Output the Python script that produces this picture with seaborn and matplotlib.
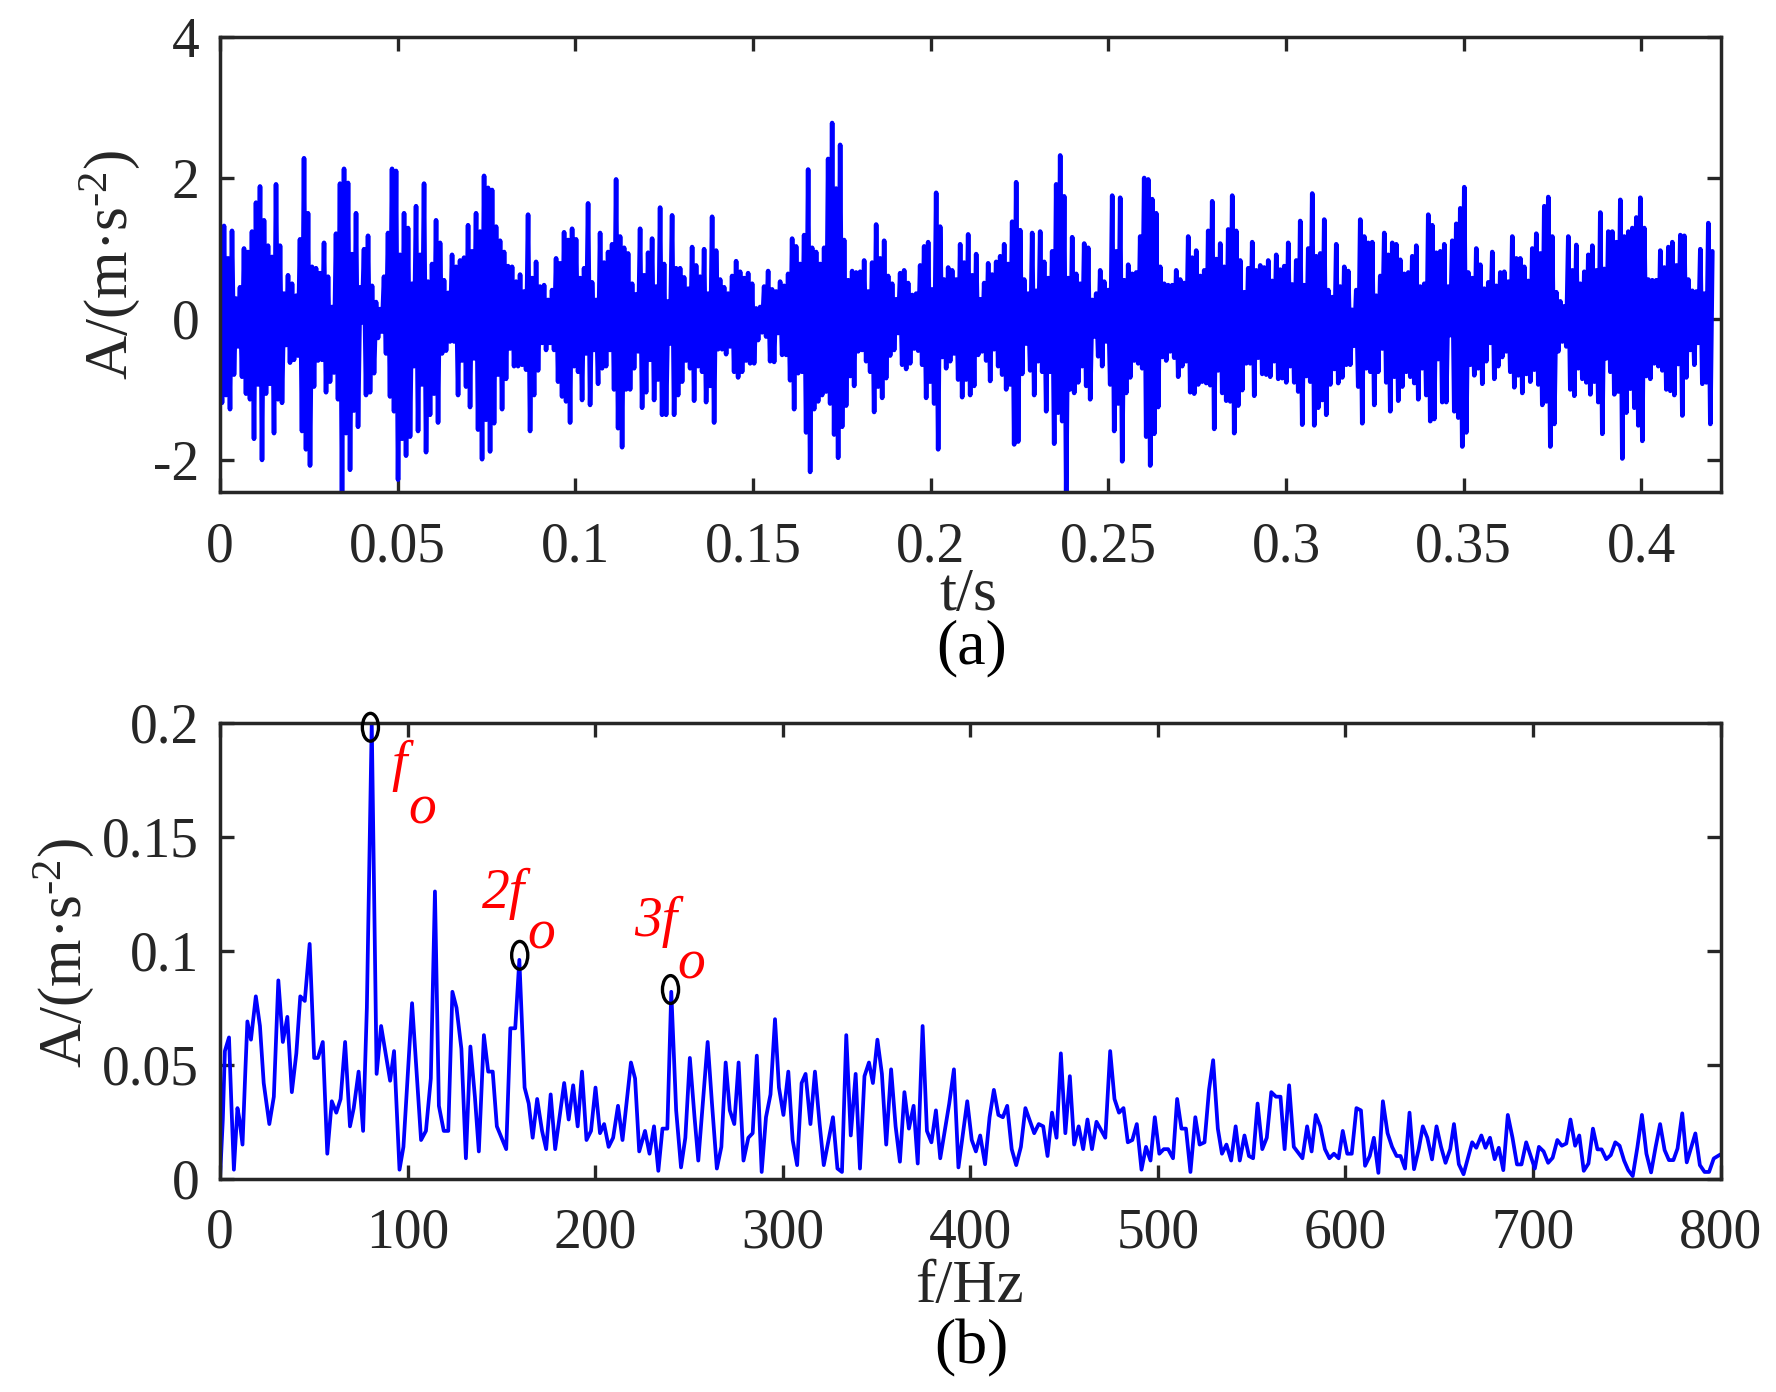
import numpy as np
import matplotlib
matplotlib.use("Agg")
import matplotlib.pyplot as plt
from matplotlib.patches import Ellipse
import seaborn as sns

# Panel (a): read-off upper and lower excursions of the vibration signal, m/s^2
upper_1 = [.60,1.32,.86,1.25,.29,.45,1.0,.95,1.24,1.65,1.88,1.40,1.04,.88,1.91,1.04,.36,.62,.50,.33,1.13,2.28,1.50,.74,.72,.65,1.08,.60,.17,1.21,1.92,2.13,1.93,.92,1.50,.45,.99,1.18,.47,.24,.14,.60,1.22,2.13,2.10,.91,1.50,1.29,.50,1.60,.91,1.92,.53,.78,1.40,1.08,.55,.37,.91,.74,.83,.87,1.33,.96,1.50,1.24,2.03,1.86,1.83,1.31,1.11,.95,.75,.74,.53,.63,.39,1.48,.58,.81,.46,.48,.27,.41,.86,.79,1.23,1.12,1.28,1.13,.58,.72,1.64,.52]
upper_2 = [.27,1.22,.80,.95,1.06,1.98,1.17,1.01,.93,.50,.35,1.28,.62,.94,1.14,.46,1.58,.78,.25,1.47,.72,.72,.59,.43,1.02,.76,.60,.99,.36,1.45,.97,.56,.45,.36,.61,.82,.67,.58,.65,.50,.15,.17,.46,.68,.42,.39,.53,.47,.64,1.14,1.03,.78,1.19,2.12,1.01,.95,.78,1.01,2.27,2.78,1.85,2.47,1.12,.55,.68,.66,.67,.83,.39,.80,1.34,.86,1.11,.61,.50,.28,.65,.69,.51,.34,.36,.76,1.03,1.09,.42,1.79,1.31,.56,.73,.69,.56,1.06,.80,1.20]
upper_3 = [.62,.92,.28,.51,.79,.63,.81,.89,1.06,.78,1.38,1.94,1.26,.56,.36,1.22,.40,1.24,.81,.58,.96,1.91,2.32,1.74,.58,1.16,.64,.50,1.07,1.01,.27,.36,.69,.53,.41,1.75,.96,1.72,.55,.77,.64,.66,1.17,2.0,1.98,1.70,1.50,.74,.50,.48,.48,.69,.56,.51,1.17,.87,.97,.61,.69,1.25,1.67,.85,1.07,.74,1.27,1.75,1.25,.83,.38,.72,1.09,.69,.76,.73,.83,.54,.91,.70,.75,1.08,.49,.83,1.39,.48,1.0,1.78,.89,.93,1.41,.41,.31,1.06,.46,.74]
upper_4 = [.68,.13,.41,1.41,1.17,1.08,1.09,.33,.61,1.22,.91,1.08,1.06,.84,.64,.66,.89,1.04,.46,.50,1.48,1.33,.94,.96,1.06,.46,1.11,1.35,1.57,1.87,.66,.58,1.0,.77,.43,.52,.95,.47,.66,.67,.53,1.17,.86,.86,.74,.54,1.0,1.21,.93,1.60,1.73,1.17,.38,.25,.18,1.17,.69,1.05,.50,.67,.91,1.04,.69,1.51,.71,1.24,1.24,1.09,1.69,1.17,1.24,1.29,1.44,1.72,1.29,.56,.55,.55,.97,.73,1.02,1.09,.76,1.19,1.18,.56,.40,.39,.99,.36,1.36,.96]

lower_1 = [-1.19,-1.08,-1.28,-.79,-.39,-.82,-1.06,-1.14,-1.70,-.93,-2.0,-1.06,-.92,-1.62,-1.14,-1.19,-.37,-.62,-.58,-.52,-1.59,-1.85,-2.08,-.96,-.59,-.58,-1.04,-.89,-.76,-1.14,-2.45,-1.62,-2.14,-1.30,-1.53,-.05,-1.08,-1.04,-.77,-.27,-.18,-.49,-1.10,-1.31,-2.28,-1.70,-1.94,-1.67,-.67,-1.59,-.93,-1.89,-1.36,-1.06,-1.47,-.49,-.45,-.32,-.32,-1.08,-.59,-.96,-1.25,-.56,-1.57,-1.99,-1.43,-1.88,-1.48,-.79,-1.28,-.85,-.42,-.67,-.67,-.65,-.72,-1.59,-1.08,-.73,-.34,-.44,-.34,-.44,-.89,-1.10,-1.17,-1.47,-.67,-.75,-1.15,-.49,-1.22,-.44]
lower_2 = [-.92,-.70,-.67,-.44,-1.0,-1.55,-1.82,-1.0,-1.0,-.70,-.46,-1.26,-1.04,-.58,-1.15,-.86,-1.36,-1.36,-.35,-1.36,-1.08,-.89,-.59,-.70,-1.16,-.67,-.75,-1.18,-.95,-1.47,-.43,-.43,-.50,-.39,-.75,-.83,-.75,-.59,-.63,-.63,-.30,-.19,-.25,-.60,-.61,-.20,-.51,-.51,-.87,-1.28,-.77,-.75,-1.61,-2.17,-1.28,-1.17,-1.08,-1.03,-1.20,-1.64,-1.97,-1.53,-1.23,-.81,-.95,-.46,-.44,-.60,-.75,-1.32,-.96,-1.12,-.84,-.52,-.44,-.20,-.65,-.71,-.63,-.42,-.45,-.65,-1.12,-.89,-1.20,-1.85,-.54,-.70,-.60,-.49,-.86,-1.11,-.86,-1.08]
lower_3 = [-.95,-.51,-.46,-.59,-.88,-.43,-.67,-.79,-1.0,-.93,-1.78,-1.74,-.78,-.35,-.73,-1.08,-.60,-.75,-1.31,-.75,-1.77,-1.33,-1.45,-2.45,-1.0,-1.05,-.90,-.67,-.95,-1.14,-.25,-.53,-.67,-.32,-.93,-1.59,-1.20,-2.02,-1.05,-.83,-.59,-.63,-.70,-1.67,-2.08,-1.63,-1.25,-.54,-.59,-.46,-.55,-.82,-.67,-.60,-1.04,-1.06,-.93,-.89,-.91,-.94,-1.56,-.73,-1.05,-1.16,-1.17,-1.62,-1.23,-1.01,-.63,-.63,-1.09,-.55,-.78,-.79,-.82,-.60,-.85,-.84,-.90,-.67,-.90,-1.03,-1.50,-.81,-.89,-1.51,-1.26,-1.15,-1.36,-.93,-.71,-.91,-.83,-.65]
lower_4 = [-.65,-.38,-.96,-1.48,-.70,-.75,-1.22,-.75,-.42,-.90,-1.31,-.82,-1.16,-.96,-.75,-.82,-.91,-1.14,-.70,-1.08,-1.45,-1.42,-.57,-1.18,-1.18,-.23,-1.31,-1.40,-1.81,-1.61,-.65,-.80,-.70,-.92,-.60,-.34,-.85,-.67,-.54,-.46,-.75,-.97,-.80,-1.05,-.78,-.89,-.72,-.93,-1.22,-1.17,-1.81,-1.49,-.46,-.32,-.39,-1.0,-1.09,-.70,-.85,-.90,-1.07,-.89,-1.18,-1.63,-.56,-.75,-1.07,-1.03,-1.98,-1.33,-.99,-1.26,-1.51,-1.73,-.81,-.85,-.63,-.67,-.73,-1.0,-1.02,-1.08,-.64,-1.37,-.83,-.44,-.65,-.34,-.92,-.90,-1.49,-.85]

# Panel (b): read-off spectrum
freq_1 = [0,1.5,2.6,4.8,6.1,7.4,9.3,10.4,12,13.5,14.6,16.5,19.1,21.3,23.3,26.3,28.7,31.1,33.5,35.9,38.3,40.7,42.8,45.2,47.8,50.2,52.2,54.8,57.2,59.6,62,64.3,66.7,69.3,71.3,73.9,76.3,78.3,80.9,83.5,85.9,90.7,92.8,95.7,97.8,102.4,104.8,107.2,109.8,112.4,114.6,116.7,119.3,121.7,123.9,126.1,128.7,131.1,133.5,135.9,138,140.7,143,145.4,147.6,152.6,154.8,157.4,159.6,162.4,164.6,166.7,169.1,171.7,173.9,176.3,178.7,183.5,185.9,188.3,190.7,193,195.4,197.8,200.2,202.6,204.8,207.2,209.6,212.2,214.6,219.1,221.3,223.5]
amp_1 = [0,.026,.056,.062,.032,.004,.031,.026,.015,.047,.069,.061,.080,.067,.042,.024,.036,.087,.060,.071,.038,.055,.080,.078,.103,.053,.053,.060,.011,.034,.029,.035,.060,.023,.031,.047,.021,.075,.2,.046,.067,.043,.056,.004,.014,.077,.047,.017,.021,.044,.126,.032,.021,.021,.082,.075,.057,.009,.058,.036,.012,.063,.047,.047,.023,.013,.066,.066,.096,.040,.033,.018,.035,.021,.013,.037,.013,.042,.026,.041,.023,.047,.017,.021,.040,.020,.024,.014,.018,.032,.017,.051,.044,.012]
freq_2 = [226.6,229,231.4,233.7,235.9,238.5,240.6,243.2,245.8,248.1,250.5,253,255,260,262.3,264.9,267.3,269.6,271.8,274.2,276.5,279.1,281.7,284,286.2,288.8,291.1,293.5,295.9,298,300.4,303,305.3,307.7,310.1,312.2,314.8,317.2,319.7,321.9,326.8,329.2,331.6,333.9,336.3,338.9,341.2,343.6,346,348.1,350.5,352.9,355.2,357.8,360.2,362.5,364.9,367.3,369.8,372,374.6,376.9,379.3,381.7,384,386.4,388.8,391.3,393.7,398.4,400.8,403,405.3,407.9,410.3,412.6,415,417.4,419.7,422.1,424.5,427,429.4,434.1,436.5,438.9,441.2,443.6,446,448.3,450.7,453.1,455.4,457.8,460.2,462.5,464.9,467.3,472,474.6,476.9,479.3,481.7,484,486.4,488.8,491.3,493.7,496.1,498.4,500.8,503.2,505.5,508.1,510.3,512.6,515,517.4,520,522.3]
amp_2 = [.021,.011,.023,.0035,.022,.022,.082,.030,.005,.018,.053,.027,.008,.060,.033,.0045,.014,.051,.030,.024,.051,.008,.018,.020,.054,.003,.027,.037,.070,.040,.028,.047,.017,.006,.042,.046,.024,.047,.024,.006,.027,.0045,.003,.063,.019,.046,.0045,.045,.051,.042,.061,.046,.015,.048,.023,.0075,.038,.022,.032,.0067,.067,.021,.016,.030,.009,.021,.033,.048,.005,.034,.017,.012,.019,.0064,.027,.039,.028,.027,.032,.013,.006,.014,.031,.020,.024,.023,.010,.029,.018,.055,.020,.045,.015,.023,.013,.026,.013,.025,.018,.056,.035,.029,.031,.016,.017,.024,.004,.014,.008,.027,.011,.013,.013,.009,.035,.022,.022,.003,.027,.015]
freq_3 = [524.9,527.3,529.5,532,534.2,536.6,539.1,541.5,543.7,546.2,548.6,550.8,553.2,555.7,558.1,560.5,563,565.4,567.6,570,572.5,577.1,579.6,582,584.2,586.6,589.1,591.5,593.9,596.4,598.6,601,603.4,605.9,608.3,610.5,613,615.2,617.6,620,622.5,624.9,627.3,629.4,631.8,634.2,636.6,639.1,641.3,643.7,646.2,648.6,651,653.4,655.9,657.9,660.5,663,667.6,669.8,672.5,674.7,677.1,679.6,681.8,684.2,686.6,689.1,691.5,693.9,696.4,701,703.2,705.7,708.1,710.5,713,715.4,717.8,720,722.5,724.7,727.1,729.6,732,734.4,736.6,739.1,741.5,743.9,746.2,748.6,750.8,753.2,755.7,758.1,760.5,763,765.4,767.8,770.2,772.5,774.9,777.1,779.6,782,786.6,789,791.5,793.9,796.4,800]
amp_3 = [.016,.039,.052,.022,.011,.015,.008,.023,.008,.019,.010,.009,.033,.013,.018,.038,.036,.036,.013,.041,.014,.009,.023,.012,.028,.023,.013,.009,.011,.009,.021,.011,.011,.031,.030,.0057,.010,.018,.0026,.034,.020,.014,.010,.010,.0045,.029,.0042,.013,.023,.018,.0085,.023,.014,.007,.013,.024,.0064,.002,.016,.0136,.019,.0136,.018,.0086,.0136,.0038,.028,.018,.0063,.0063,.016,.0045,.014,.012,.007,.0092,.017,.0145,.0155,.026,.0145,.019,.0035,.0067,.022,.0129,.0129,.0086,.0104,.016,.0145,.008,.0038,.0012,.0139,.028,.011,.0028,.0139,.024,.0126,.0082,.0082,.0133,.0287,.0072,.0199,.006,.003,.003,.0089,.0107]

# Fault-frequency harmonics marked on the spectrum
harm_f = [80.2, 159.8, 240.2]
harm_a = [.198, .098, .083]

xticks_a = [0, .05, .1, .15, .2, .25, .3, .35, .4]
xlabels_a = ["0", "0.05", "0.1", "0.15", "0.2", "0.25", "0.3", "0.35", "0.4"]
yticks_a = [-2, 0, 2, 4]
ylabels_a = ["-2", "0", "2", "4"]
xticks_b = [0, 100, 200, 300, 400, 500, 600, 700, 800]
yticks_b = [0, .05, .1, .15, .2]
ylabels_b = ["0", "0.05", "0.1", "0.15", "0.2"]

sns.set_theme(style="ticks")
INK = "#262626"
plt.rcParams.update({
    "font.family": ["Liberation Serif", "DejaVu Serif"],
    "mathtext.fontset": "custom",
    "mathtext.rm": "Liberation Serif",
    "mathtext.it": "Liberation Serif:italic",
    "axes.unicode_minus": False,
})
FS = 40
LABEL_FS = 44

W, H = 1776, 1392
fig = plt.figure(figsize=(W / 100, H / 100), dpi=100, facecolor="white")
L, R = 220, 1720.5
ax_a = fig.add_axes([L / W, 1 - 492 / H, (R - L) / W, (492 - 37) / H])
ax_b = fig.add_axes([L / W, 1 - 1178.8 / H, (R - L) / W, (1178.8 - 722.7) / H])

up = np.array(upper_1 + upper_2 + upper_3 + upper_4)
lo = np.array(lower_1 + lower_2 + lower_3 + lower_4)
n = min(len(up), len(lo))
step = 0.42 / (n - 1)
t_sig = np.arange(2 * n) * step / 2
y_sig = np.empty(2 * n)
y_sig[0::2] = up[:n]
y_sig[1::2] = lo[:n]
keep = t_sig <= 0.42
sns.lineplot(x=t_sig[keep], y=y_sig[keep], ax=ax_a, color="#0000ff", linewidth=3.3,
             estimator=None, sort=False, errorbar=None)

f = np.array(freq_1 + freq_2 + freq_3)
a = np.array(amp_1 + amp_2 + amp_3)
m = min(len(f), len(a))
sns.lineplot(x=f[:m], y=a[:m], ax=ax_b, color="#0000ff", linewidth=2.7,
             estimator=None, sort=False, errorbar=None)

for fx, ay in zip(harm_f, harm_a):
    ax_b.add_patch(Ellipse((fx, ay), 8.6, 0.0122, fill=False, ec="black",
                           lw=2.4, clip_on=False, zorder=5))

ax_a.set_xlim(0, 0.4223)
ax_a.set_ylim(-2.455, 4)
ax_b.set_xlim(0, 800)
ax_b.set_ylim(0, 0.2)
ax_a.set_xticks(xticks_a, xlabels_a)
ax_a.set_yticks(yticks_a, ylabels_a)
ax_b.set_xticks(xticks_b, [str(v) for v in xticks_b])
ax_b.set_yticks(yticks_b, ylabels_b)

YLAB = "A/(m\u00b7s$^{\\mathrm{\u20102}}$)"
for ax in (ax_a, ax_b):
    ax.tick_params(axis="both", direction="in", length=10, width=2.4, color=INK,
                   labelcolor=INK, labelsize=FS, top=True, right=True)
    ax.tick_params(axis="x", pad=21)
    ax.tick_params(axis="y", pad=15)
    for s in ax.spines.values():
        s.set_visible(True)
        s.set_linewidth(2.5)
        s.set_color(INK)

ax_a.set_xlabel("t/s", fontsize=LABEL_FS, color=INK, va="center")
ax_a.xaxis.set_label_coords(0.4985, -(595 - 492) / 455)
ax_a.set_ylabel(YLAB, fontsize=LABEL_FS, color=INK, va="center")
ax_a.yaxis.set_label_coords(-0.073, 0.499)
ax_b.set_xlabel("f/Hz", fontsize=LABEL_FS, color=INK, va="center")
ax_b.xaxis.set_label_coords(0.4995, -(1287 - 1178.8) / 456)
ax_b.set_ylabel(YLAB, fontsize=LABEL_FS, color=INK, va="center")
ax_b.yaxis.set_label_coords(-0.104, 0.495)

ax_a.text(0.501, -(648 - 492) / 455, "(a)", transform=ax_a.transAxes, fontsize=46,
          color="black", ha="center", va="center")
ax_b.text(0.501, -(1348 - 1178.8) / 456, "(b)", transform=ax_b.transAxes, fontsize=46,
          color="black", ha="center", va="center")

for label, fx, ay, ox, oy in [("f", 95.5, .181, 108, .162),
                              ("2f", 151, .125, 171, .107),
                              ("3f", 232, .1125, 251, .094)]:
    ax_b.text(fx, ay, label, color="red", fontsize=FS, style="italic", ha="center", va="center")
    ax_b.text(ox, oy, "o", color="red", fontsize=FS, style="italic", ha="center", va="center")

fig.savefig("out.png", dpi=100, facecolor="white")
